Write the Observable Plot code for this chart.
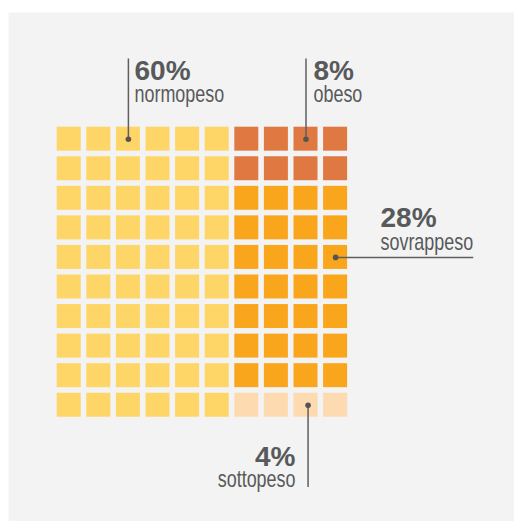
<!DOCTYPE html>
<html>
<head>
<meta charset="utf-8">
<script src="https://cdn.jsdelivr.net/npm/d3@7"></script>
<script src="https://cdn.jsdelivr.net/npm/@observablehq/plot@0.6"></script>
<style>
  html, body { margin: 0; padding: 0; background: #ffffff; }
  #chart svg { display: block; background: transparent; }
</style>
</head>
<body>
<div id="chart"></div>
<script>
// Categories and shares (percent of 100 cells)
const categories = ["normopeso", "obeso", "sovrappeso", "sottopeso"];
const percents = [60, 8, 28, 4];
const labels = ["60%", "8%", "28%", "4%"];
const colors = ["#FED567", "#E07941", "#F9A61D", "#FEDAB0"];

// Annotation anchors (data units: columns / rows of the 10x10 grid)
const annCol   = [2.5, 8.5, 9.5, 8.57];
const annRow   = [0.5, 0.5, 4.5, 9.5];
const annEndCol = [2.5, 8.5, 14.15, 8.57];
const annEndRow = [-2.23, -2.23, 4.5, 12.27];
const annTextX = [2.706, 8.753, 11.017, 8.145];
const annLabelY = [-1.509, -1.509, 3.478, 11.573];
const annNameY = [-0.751, -0.751, 4.242, 12.26];
const annAnchor = ["start", "start", "start", "end"];

// Build waffle cells: first category fills whole columns, the rest fill the remaining columns row by row
const cells = [];
const nFullCols = percents[0] / 10;
for (let c = 0; c < nFullCols; c++)
  for (let r = 0; r < 10; r++) cells.push({col: c, row: r, cat: categories[0]});
const restCols = 10 - nFullCols;
let k = 0;
for (let i = 1; i < categories.length; i++) {
  for (let j = 0; j < percents[i]; j++, k++) {
    cells.push({col: nFullCols + (k % restCols), row: Math.floor(k / restCols), cat: categories[i]});
  }
}

const ann = categories.map((name, i) => ({
  name, label: labels[i], col: annCol[i], row: annRow[i],
  endCol: annEndCol[i], endRow: annEndRow[i],
  tx: annTextX[i], ly: annLabelY[i], ny: annNameY[i], anchor: annAnchor[i]
}));
const annStart = ann.filter(d => d.anchor === "start");
const annEnd = ann.filter(d => d.anchor === "end");

const textColor = "#58595B";
const boldFont = "Liberation Sans, Arial, sans-serif";
const nameFont = "Liberation Sans, Arial, sans-serif";

const chart = Plot.plot({
  width: 514,
  height: 521,
  marginLeft: 8,
  marginTop: 12,
  marginRight: 0,
  marginBottom: 0,
  style: {background: "transparent"},
  x: {domain: [0, 10], range: [53.9, 349.9], axis: null},
  y: {domain: [0, 10], range: [123.9, 419.5], axis: null},
  color: {domain: categories, range: colors},
  marks: [
    Plot.frame({fill: "#F2F3F2", stroke: null}),
    Plot.rect(cells, {
      x1: "col", x2: d => d.col + 1,
      y1: "row", y2: d => d.row + 1,
      fill: "cat", inset: 2.8
    }),
    Plot.link(ann, {
      x1: "col", y1: "row", x2: "endCol", y2: "endRow",
      stroke: "#5F5F5F", strokeWidth: 1.5
    }),
    Plot.dot(ann, {x: "col", y: "row", r: 2.8, fill: "#555555", stroke: null}),
    Plot.text(annStart, {
      x: "tx", y: "ly", text: "label", textAnchor: "start", lineAnchor: "bottom",
      fontSize: 28, fontWeight: "bold", fontFamily: boldFont, fill: textColor
    }),
    Plot.text(annStart, {
      x: "tx", y: "ny", text: "name", textAnchor: "start", lineAnchor: "bottom",
      fontSize: 23, fontFamily: nameFont, fill: textColor
    }),
    Plot.text(annEnd, {
      x: "tx", y: "ly", text: "label", textAnchor: "end", lineAnchor: "bottom",
      fontSize: 28, fontWeight: "bold", fontFamily: boldFont, fill: textColor
    }),
    Plot.text(annEnd, {
      x: "tx", y: "ny", text: "name", textAnchor: "end", lineAnchor: "bottom",
      fontSize: 23, fontFamily: nameFont, fill: textColor
    })
  ]
});

// Condense the category names horizontally (the reference uses a narrow typeface)
d3.select(chart).selectAll("text")
  .filter(function() { return categories.includes(this.textContent); })
  .each(function() {
    const t = this.getAttribute("transform") || "";
    this.setAttribute("transform", t + " scale(0.78,1)");
  });

document.getElementById("chart").appendChild(chart);
</script>
</body>
</html>
